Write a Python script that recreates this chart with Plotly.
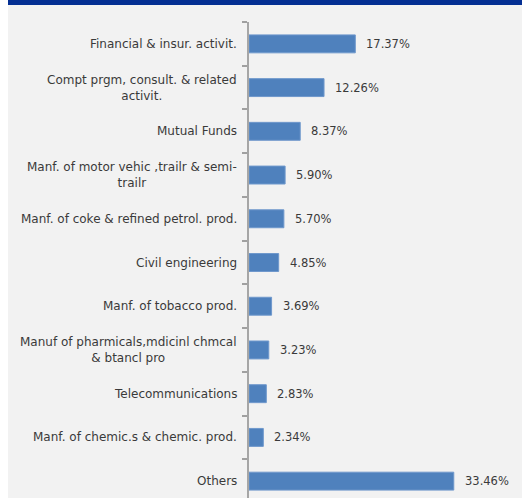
import plotly.graph_objects as go

# Sector exposure shares (percent of portfolio)
sectors = [
    "Financial & insur. activit.",
    "Compt prgm, consult. & related<br>activit.",
    "Mutual Funds",
    "Manf. of motor vehic ,trailr & semi-<br>trailr",
    "Manf. of coke & refined petrol. prod.",
    "Civil engineering",
    "Manf. of tobacco prod.",
    "Manuf of pharmicals,mdicinl chmcal<br>& btancl pro",
    "Telecommunications",
    "Manf. of chemic.s & chemic. prod.",
    "Others",
]
shares = [17.37, 12.26, 8.37, 5.90, 5.70, 4.85, 3.69, 3.23, 2.83, 2.34, 33.46]
value_labels = [f"{v:.2f}%" for v in shares]

W, H = 522, 498
ML, MT = 249, 22
PW = W - ML
PH = H - MT
STEP = 43.7          # pixel height of one category band
BOTTOM_EDGE = 503    # lower boundary of the last band (just below the page)

BG = "#f2f2f2"
BAR = "#4f81bd"
TXT = "#3a3a3a"
FONT = "DejaVu Sans"

n = len(sectors)
cats = list(range(n))

fig = go.Figure()
fig.add_trace(go.Bar(
    x=shares,
    y=cats,
    orientation="h",
    width=0.41,
    marker=dict(color=BAR, line=dict(color="#6f98cc", width=1)),
    hoverinfo="skip",
))

annotations = []
# category labels, centred lines, right edge near the axis
for i, s in enumerate(sectors):
    annotations.append(dict(
        x=0, y=i, xref="x", yref="y", text=s, showarrow=False,
        xanchor="right", yanchor="middle", align="center", xshift=-10,
        font=dict(family=FONT, size=12, color=TXT),
    ))
# value labels beyond the bar ends
for i, (v, t) in enumerate(zip(shares, value_labels)):
    annotations.append(dict(
        x=v, y=i, xref="x", yref="y", text=t, showarrow=False,
        xanchor="left", yanchor="middle", xshift=9,
        font=dict(family=FONT, size=11.5, color=TXT),
    ))

shapes = [
    # white strip on the left edge
    dict(type="rect", xref="paper", yref="paper",
         x0=-ML / PW, x1=-(ML - 8) / PW, y0=-0.1, y1=1 + MT / PH + 0.1,
         fillcolor="white", line=dict(width=0), layer="below"),
    # dark header band along the top
    dict(type="rect", xref="paper", yref="paper",
         x0=-(ML - 8) / PW, x1=1.05, y0=1 + (MT - 5) / PH, y1=1 + MT / PH + 0.1,
         fillcolor="#042f93", line=dict(width=0), layer="below"),
]

fig.update_layout(
    width=W, height=H,
    margin=dict(l=ML, r=0, t=MT, b=0, pad=0),
    paper_bgcolor=BG, plot_bgcolor=BG,
    showlegend=False,
    annotations=annotations,
    shapes=shapes,
    xaxis=dict(range=[0, PW / 6.12], visible=False, fixedrange=True),
    yaxis=dict(
        range=[n - 0.5 - (BOTTOM_EDGE - H) / STEP, -0.5],
        tickvals=[i - 0.5 for i in range(n + 1)],
        ticktext=["" for _ in range(n + 1)],
        ticks="outside", ticklen=5, tickwidth=1.5, tickcolor="#a0a0a0",
        showline=True, linecolor="#a6a6a6", linewidth=2,
        showgrid=False, zeroline=False, fixedrange=True,
    ),
)

fig.write_html("out.html")
